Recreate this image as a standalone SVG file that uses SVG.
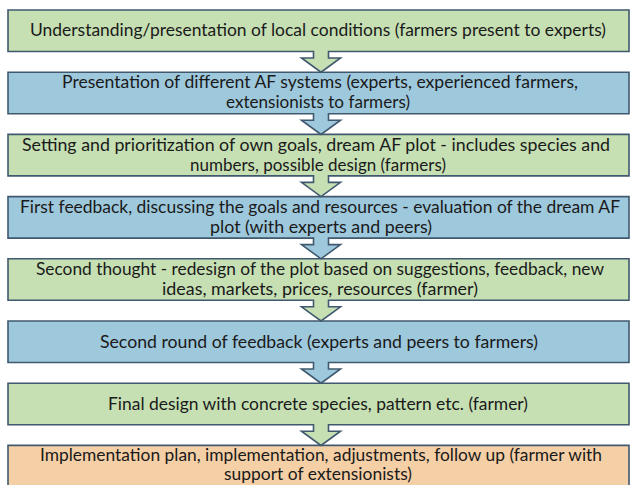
<svg xmlns="http://www.w3.org/2000/svg" width="630" height="485" viewBox="0 0 630 485">
<style>
.box{stroke:#40596e;stroke-width:1.6;stroke-linejoin:miter}
.g{fill:#c6e0b4}
.b{fill:#9ec8dc}
.o{fill:#f5cfa6}
text{font-family:Lato,"Open Sans","Liberation Sans",sans-serif;font-size:16.5px;fill:#1a1a1a;text-anchor:middle}
</style>
<rect width="630" height="485" fill="#ffffff"/>
<g id="connectors"></g>
<g id="n8">
<path class="box o" d="M8,445.4 H629 V492 H8 Z"/>
<text x="321" y="461" textLength="562" lengthAdjust="spacingAndGlyphs">Implementation plan, implementation, adjustments, follow up (farmer with</text>
<text x="318" y="480" textLength="188" lengthAdjust="spacingAndGlyphs">support of extensionists)</text>
</g>
<g id="n7">
<path class="box g" d="M8,383.2 H629 V424.7 H328.5 V431.2 H340.5 L321,445.4 L301.5,431.2 H313.5 V424.7 H8 Z"/>
<text x="318" y="409.5" textLength="420" lengthAdjust="spacingAndGlyphs">Final design with concrete species, pattern etc. (farmer)</text>
</g>
<g id="n6">
<path class="box b" d="M8,321 H629 V362.5 H328.5 V369 H340.5 L321,383.2 L301.5,369 H313.5 V362.5 H8 Z"/>
<text x="319" y="347.5" textLength="438" lengthAdjust="spacingAndGlyphs">Second round of feedback (experts and peers to farmers)</text>
</g>
<g id="n5">
<path class="box g" d="M8,258.8 H629 V300.3 H328.5 V306.8 H340.5 L321,321 L301.5,306.8 H313.5 V300.3 H8 Z"/>
<text x="320" y="275" textLength="568" lengthAdjust="spacingAndGlyphs">Second thought - redesign of the plot based on suggestions, feedback, new</text>
<text x="320" y="295" textLength="316" lengthAdjust="spacingAndGlyphs">ideas, markets, prices, resources (farmer)</text>
</g>
<g id="n4">
<path class="box b" d="M8,196.6 H629 V238.1 H328.5 V244.6 H340.5 L321,258.8 L301.5,244.6 H313.5 V238.1 H8 Z"/>
<text x="320" y="212.5" textLength="600" lengthAdjust="spacingAndGlyphs">First feedback, discussing the goals and resources - evaluation of the dream AF</text>
<text x="321" y="232.5" textLength="222" lengthAdjust="spacingAndGlyphs">plot (with experts and peers)</text>
</g>
<g id="n3">
<path class="box g" d="M8,134.4 H629 V175.9 H328.5 V182.4 H340.5 L321,196.6 L301.5,182.4 H313.5 V175.9 H8 Z"/>
<text x="316" y="150.5" textLength="588" lengthAdjust="spacingAndGlyphs">Setting and prioritization of own goals, dream AF plot - includes species and</text>
<text x="318" y="170.5" textLength="256" lengthAdjust="spacingAndGlyphs">numbers, possible design (farmers)</text>
</g>
<g id="n2">
<path class="box b" d="M8,72.2 H629 V113.7 H328.5 V120.2 H340.5 L321,134.4 L301.5,120.2 H313.5 V113.7 H8 Z"/>
<text x="320" y="88" textLength="516" lengthAdjust="spacingAndGlyphs">Presentation of different AF systems (experts, experienced farmers,</text>
<text x="318" y="108" textLength="184" lengthAdjust="spacingAndGlyphs">extensionists to farmers)</text>
</g>
<g id="n1">
<path class="box g" d="M8,10 H629 V51.5 H328.5 V58 H340.5 L321,72.2 L301.5,58 H313.5 V51.5 H8 Z"/>
<text x="318" y="36" textLength="576" lengthAdjust="spacingAndGlyphs">Understanding/presentation of local conditions (farmers present to experts)</text>
</g>
</svg>
